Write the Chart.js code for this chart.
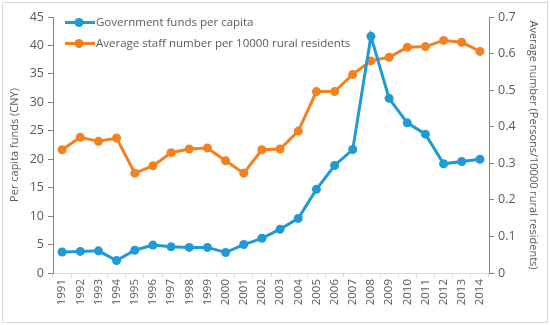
<!DOCTYPE html>
<html>
<head>
<meta charset="utf-8">
<script src="https://cdn.jsdelivr.net/npm/chart.js@4"></script>
<style>
  body { margin: 0; background: #fff; }
  #wrap { position: relative; width: 550px; height: 325px; }
</style>
</head>
<body>
<div id="wrap"><canvas id="chart" width="550" height="325"></canvas></div>
<script>
const years = ['1991','1992','1993','1994','1995','1996','1997','1998','1999','2000','2001','2002',
               '2003','2004','2005','2006','2007','2008','2009','2010','2011','2012','2013','2014'];
const fundsPerCapita = [3.7, 3.8, 3.9, 2.2, 4.0, 4.9, 4.6, 4.5, 4.5, 3.6, 5.0, 6.1,
                        7.7, 9.6, 14.7, 18.9, 21.7, 41.6, 30.7, 26.4, 24.4, 19.2, 19.6, 20.0];
const staffPer10000 = [0.337, 0.371, 0.360, 0.369, 0.273, 0.293, 0.329, 0.339, 0.342, 0.307, 0.273, 0.337,
                       0.339, 0.388, 0.496, 0.496, 0.543, 0.580, 0.590, 0.617, 0.619, 0.636, 0.631, 0.606];
const seriesLabels = ['Government funds per capita', 'Average staff number per 10000 rural residents'];

const BLUE = '#1F9AD6';
const ORANGE = '#F5801F';
const TEXT = '#595959';
const FONT = "'Open Sans', 'Liberation Sans', sans-serif";

// frame around the whole picture + legend drawn in the top-left of the plot
const decor = {
  id: 'decor',
  beforeDraw(chart) {
    const c = chart.ctx;
    c.save();
    c.fillStyle = '#fff';
    c.fillRect(0, 0, chart.width, chart.height);
    c.strokeStyle = '#d9d9d9';
    c.lineWidth = 1;
    c.strokeRect(2.5, 2.5, chart.width - 5, chart.height - 5);
    c.restore();
  },
  afterDraw(chart) {
    const c = chart.ctx;
    c.save();
    chart.data.datasets.forEach((ds, i) => {
      const y = 22.5 + i * 21;
      c.strokeStyle = ds.borderColor;
      c.lineWidth = 3;
      c.beginPath(); c.moveTo(65, y); c.lineTo(95, y); c.stroke();
      c.fillStyle = ds.borderColor;
      c.beginPath(); c.arc(79, y, 4.5, 0, Math.PI * 2); c.fill();
      c.fillStyle = TEXT;
      c.font = "11.5px " + FONT;
      c.textBaseline = 'middle';
      c.fillText(ds.label, 96, y);
    });
    c.restore();
  }
};

new Chart(document.getElementById('chart'), {
  type: 'line',
  data: {
    labels: years,
    datasets: [
      { label: seriesLabels[0], data: fundsPerCapita, yAxisID: 'y',
        borderColor: BLUE, backgroundColor: BLUE, borderWidth: 3,
        pointRadius: 4.5, pointBackgroundColor: BLUE, pointBorderWidth: 0, tension: 0 },
      { label: seriesLabels[1], data: staffPer10000, yAxisID: 'y1',
        borderColor: ORANGE, backgroundColor: ORANGE, borderWidth: 3,
        pointRadius: 4.5, pointBackgroundColor: ORANGE, pointBorderWidth: 0, tension: 0 }
    ]
  },
  options: {
    responsive: false,
    animation: false,
    layout: { padding: { top: 17, left: 0, right: 0, bottom: 0 } },
    plugins: { legend: { display: false }, tooltip: { enabled: false } },
    scales: {
      x: {
        offset: true,
        afterFit: s => { s.height = 52; },
        grid: { display: true, drawOnChartArea: false, drawTicks: true, tickLength: 4, color: '#d9d9d9', offset: true },
        border: { color: '#d9d9d9' },
        ticks: { color: TEXT, font: { family: FONT, size: 11.5 }, minRotation: 90, maxRotation: 90, autoSkip: false, padding: 2 }
      },
      y: {
        position: 'left',
        min: 0, max: 45,
        afterFit: s => { s.width = 53; },
        grid: { drawOnChartArea: false, drawTicks: true, tickLength: 5, color: '#868686' },
        border: { color: '#868686' },
        ticks: { stepSize: 5, color: TEXT, font: { family: FONT, size: 12.5 }, padding: 4 },
        title: { display: true, text: 'Per capita funds (CNY)', color: TEXT, font: { family: FONT, size: 11 }, padding: { top: 8, bottom: 0 } }
      },
      y1: {
        position: 'right',
        min: 0, max: 0.7,
        afterFit: s => { s.width = 61; },
        grid: { drawOnChartArea: false, drawTicks: true, tickLength: 5, color: '#868686' },
        border: { color: '#868686' },
        ticks: { stepSize: 0.1, color: TEXT, font: { family: FONT, size: 12.5 }, padding: 4,
                 callback: v => (Math.round(v * 10) / 10).toString() },
        title: { display: true, text: 'Average number (Persons/10000 rural residents)', color: TEXT, font: { family: FONT, size: 11 }, padding: { top: 10, bottom: 0 } }
      }
    }
  },
  plugins: [decor]
});
</script>
</body>
</html>
